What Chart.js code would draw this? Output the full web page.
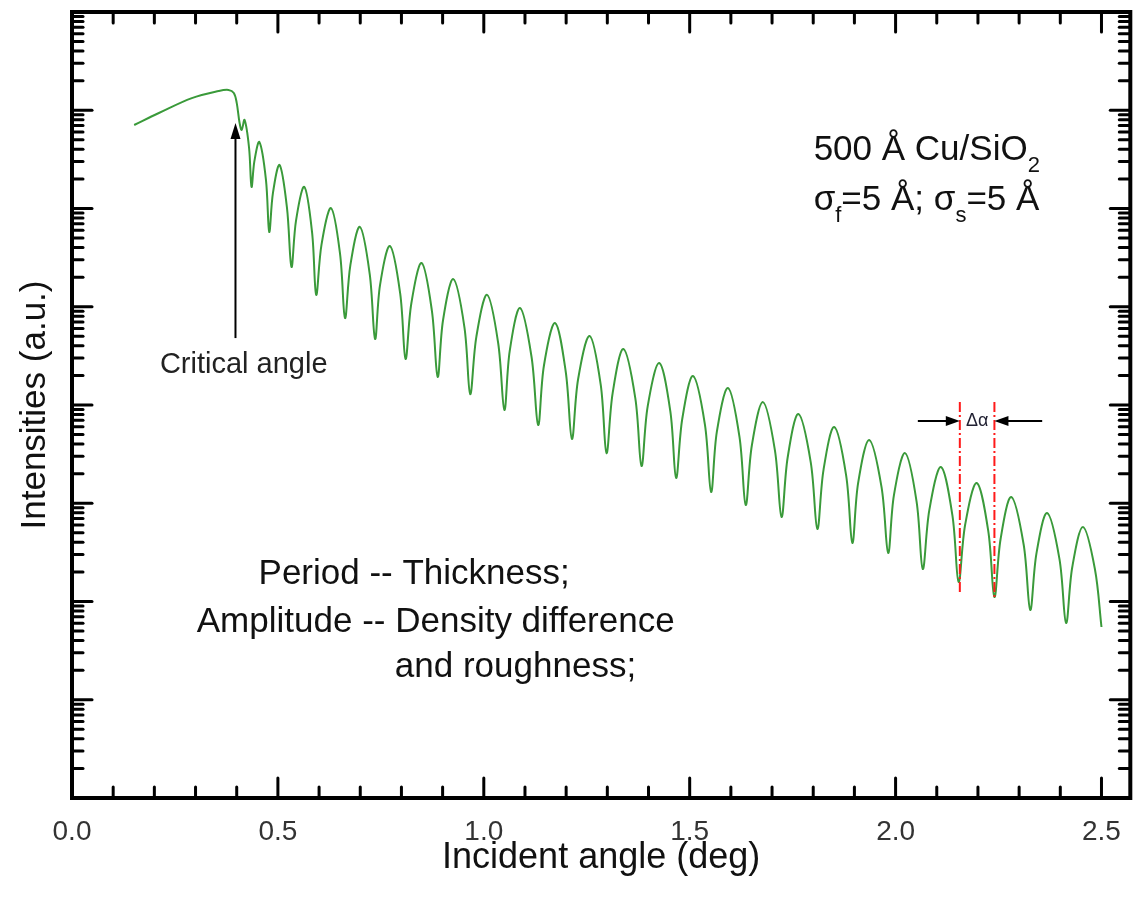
<!DOCTYPE html>
<html>
<head>
<meta charset="utf-8">
<script src="https://cdn.jsdelivr.net/npm/chart.js@4.4.1/dist/chart.umd.min.js"></script>
<style>
  html, body { margin: 0; padding: 0; background: #fff; }
</style>
</head>
<body>
<canvas id="chart" width="1138" height="908"></canvas>
<script>
// X-ray reflectivity of 500 A Cu on SiO2
const angle = [
  0.151, 0.211, 0.291, 0.356, 0.380, 0.393, 0.400, 0.407, 0.412, 0.419, 0.430,
  0.436, 0.443, 0.455, 0.471, 0.479, 0.488, 0.504, 0.522, 0.533, 0.544,
  0.564, 0.583, 0.593, 0.606, 0.629, 0.651, 0.663, 0.676, 0.699, 0.723,
  0.736, 0.748, 0.772, 0.797, 0.810, 0.824, 0.849, 0.874, 0.888, 0.901,
  0.926, 0.953, 0.967, 0.982, 1.008, 1.035, 1.050, 1.063, 1.088, 1.116,
  1.132, 1.146, 1.173, 1.199, 1.214, 1.229, 1.257, 1.284, 1.298, 1.313,
  1.339, 1.368, 1.383, 1.398, 1.426, 1.453, 1.467, 1.482, 1.508, 1.537,
  1.552, 1.566, 1.593, 1.621, 1.636, 1.651, 1.678, 1.707, 1.723, 1.738,
  1.764, 1.794, 1.810, 1.825, 1.851, 1.880, 1.895, 1.909, 1.936, 1.966,
  1.982, 1.996, 2.023, 2.051, 2.066, 2.082, 2.110, 2.138, 2.153, 2.169,
  2.197, 2.225, 2.240, 2.255, 2.281, 2.311, 2.327, 2.342, 2.368, 2.398,
  2.414, 2.429, 2.455, 2.484, 2.500
];
const intensity = [
  7.08e-2, 9.38e-2, 1.33e-1, 1.57e-1, 1.61e-1, 1.50e-1, 1.19e-1, 7.41e-2, 6.30e-2, 7.96e-2, 4.13e-2,
  1.66e-2, 3.05e-2, 4.75e-2, 1.96e-2, 5.77e-3, 1.44e-2, 2.77e-2, 1.02e-2, 2.54e-3, 7.53e-3,
  1.66e-2, 5.71e-3, 1.32e-3, 4.31e-3, 1.01e-2, 3.43e-3, 7.67e-4, 2.65e-3, 6.49e-3, 2.15e-3,
  4.70e-4, 1.66e-3, 4.15e-3, 1.36e-3, 2.94e-4, 1.08e-3, 2.79e-3, 9.08e-4, 1.93e-4, 7.29e-4,
  1.91e-3, 6.18e-4, 1.29e-4, 4.97e-4, 1.32e-3, 4.25e-4, 8.89e-5, 3.56e-4, 9.70e-4, 3.08e-4,
  6.25e-5, 2.51e-4, 6.84e-4, 2.18e-4, 4.51e-5, 1.83e-4, 5.04e-4, 1.60e-4, 3.24e-5, 1.33e-4,
  3.72e-4, 1.17e-4, 2.39e-5, 9.70e-5, 2.67e-4, 8.63e-5, 1.81e-5, 7.24e-5, 1.97e-4, 6.31e-5,
  1.30e-5, 5.35e-5, 1.49e-4, 4.71e-5, 9.59e-6, 3.89e-5, 1.07e-4, 3.46e-5, 7.24e-6, 2.94e-5,
  8.09e-5, 2.61e-5, 5.47e-6, 2.19e-5, 5.97e-5, 1.91e-5, 3.94e-6, 1.60e-5, 4.41e-5, 1.45e-5,
  3.12e-6, 1.21e-5, 3.24e-5, 1.04e-5, 2.14e-6, 8.57e-6, 2.34e-5, 7.53e-6, 1.58e-6, 6.07e-6,
  1.61e-5, 5.24e-6, 1.11e-6, 4.33e-6, 1.16e-5, 3.80e-6, 8.20e-7, 3.07e-6, 7.96e-6, 2.70e-6,
  6.04e-7, 2.23e-6, 5.73e-6, 2.14e-6, 5.50e-7
];

// axis ticks
const xMajorTicks = [0, 0.5, 1.0, 1.5, 2.0, 2.5];
const xTickLabels = ['0.0', '0.5', '1.0', '1.5', '2.0', '2.5'];
const xMinorTicks = [0.1, 0.2, 0.3, 0.4, 0.6, 0.7, 0.8, 0.9, 1.1, 1.2, 1.3, 1.4,
  1.6, 1.7, 1.8, 1.9, 2.1, 2.2, 2.3, 2.4];
const yDecades = [1e-8, 1e-7, 1e-6, 1e-5, 1e-4, 1e-3, 1e-2, 1e-1, 1];
const yMinorSteps = [2, 3, 4, 5, 6, 7, 8, 9];

// annotations (data coordinates)
const criticalArrow = { x: 0.397, from: 4.8e-4, to: 7.4e-2 };
const criticalLabel = { x: 0.417, y: 2.1e-4, text: 'Critical angle' };
const fringeLines = [
  { x: 2.156, top: 1.07e-4, bottom: 1.22e-6 },
  { x: 2.240, top: 1.07e-4, bottom: 1.09e-6 }
];
const deltaArrows = { y: 6.87e-5, leftFrom: 2.054, rightFrom: 2.356, label: 'Δα' };
const sampleLines = [
  { x: 1.801, y: 3.12e-2, parts: [{ t: '500 Å Cu/SiO' }, { t: '2', sub: true }] },
  { x: 1.801, y: 9.66e-3, parts: [{ t: 'σ' }, { t: 'f', sub: true }, { t: '=5 Å; σ' }, { t: 's', sub: true }, { t: '=5 Å' }] }
];
const noteLines = [
  { x: 0.453, y: 1.51e-6, text: 'Period -- Thickness;' },
  { x: 0.303, y: 4.9e-7, text: 'Amplitude -- Density difference' },
  { x: 0.784, y: 1.71e-7, text: 'and roughness;' }
];

const FONT = '"Liberation Sans", Arial, Helvetica, sans-serif';

function arrow(ctx, x1, y1, x2, y2, len, half) {
  const ang = Math.atan2(y2 - y1, x2 - x1);
  const c = Math.cos(ang), s = Math.sin(ang);
  ctx.beginPath();
  ctx.moveTo(x1, y1);
  ctx.lineTo(x2 - c * len * 0.8, y2 - s * len * 0.8);
  ctx.stroke();
  ctx.beginPath();
  ctx.moveTo(x2, y2);
  ctx.lineTo(x2 - len * c + half * s, y2 - len * s - half * c);
  ctx.lineTo(x2 - len * c - half * s, y2 - len * s + half * c);
  ctx.closePath();
  ctx.fill();
}

const decorations = {
  id: 'decorations',
  afterDraw(chart) {
    const { ctx, chartArea: a, scales: { x, y } } = chart;
    ctx.save();

    // inward tick marks on all four sides
    ctx.strokeStyle = '#000';
    ctx.lineWidth = 3;
    ctx.lineCap = 'round';
    const tick = (px, py, dx, dy) => {
      ctx.beginPath(); ctx.moveTo(px, py); ctx.lineTo(px + dx, py + dy); ctx.stroke();
    };
    xMajorTicks.forEach(v => {
      const p = x.getPixelForValue(v);
      tick(p, a.bottom, 0, -20); tick(p, a.top, 0, 20);
    });
    xMinorTicks.forEach(v => {
      const p = x.getPixelForValue(v);
      tick(p, a.bottom, 0, -11); tick(p, a.top, 0, 11);
    });
    yDecades.forEach(d => {
      const p = y.getPixelForValue(d);
      tick(a.left, p, 20, 0); tick(a.right, p, -20, 0);
      if (d < 1) {
        yMinorSteps.forEach(k => {
          const q = y.getPixelForValue(k * d);
          tick(a.left, q, 11, 0); tick(a.right, q, -11, 0);
        });
      }
    });
    ctx.lineCap = 'butt';
    ctx.lineWidth = 4;
    ctx.strokeRect(a.left, a.top, a.right - a.left, a.bottom - a.top);

    // critical angle arrow
    ctx.lineWidth = 2;
    ctx.fillStyle = '#000';
    const cx = x.getPixelForValue(criticalArrow.x);
    arrow(ctx, cx, y.getPixelForValue(criticalArrow.from), cx, y.getPixelForValue(criticalArrow.to), 16, 5);
    ctx.fillStyle = '#222';
    ctx.font = '29px ' + FONT;
    ctx.textAlign = 'center';
    ctx.textBaseline = 'alphabetic';
    ctx.fillText(criticalLabel.text, x.getPixelForValue(criticalLabel.x), y.getPixelForValue(criticalLabel.y));

    // fringe spacing markers
    ctx.strokeStyle = '#ff1a1a';
    ctx.lineWidth = 2;
    ctx.setLineDash([10, 3, 2, 3]);
    fringeLines.forEach(f => {
      const p = x.getPixelForValue(f.x);
      ctx.beginPath();
      ctx.moveTo(p, y.getPixelForValue(f.top));
      ctx.lineTo(p, y.getPixelForValue(f.bottom));
      ctx.stroke();
    });
    ctx.setLineDash([]);
    ctx.strokeStyle = '#000';
    ctx.fillStyle = '#000';
    const ay = y.getPixelForValue(deltaArrows.y);
    arrow(ctx, x.getPixelForValue(deltaArrows.leftFrom), ay, x.getPixelForValue(fringeLines[0].x), ay, 14, 5);
    arrow(ctx, x.getPixelForValue(deltaArrows.rightFrom), ay, x.getPixelForValue(fringeLines[1].x), ay, 14, 5);
    ctx.fillStyle = '#223';
    ctx.font = '18px ' + FONT;
    ctx.textBaseline = 'middle';
    ctx.fillText(deltaArrows.label,
      (x.getPixelForValue(fringeLines[0].x) + x.getPixelForValue(fringeLines[1].x)) / 2, ay);

    // sample description with subscripts
    ctx.fillStyle = '#111';
    ctx.textAlign = 'left';
    ctx.textBaseline = 'alphabetic';
    sampleLines.forEach(line => {
      let px = x.getPixelForValue(line.x);
      const py = y.getPixelForValue(line.y);
      line.parts.forEach(part => {
        ctx.font = (part.sub ? '22px ' : '35px ') + FONT;
        ctx.fillText(part.t, px, py + (part.sub ? 12 : 0));
        px += ctx.measureText(part.t).width;
      });
    });

    // notes
    ctx.font = '35px ' + FONT;
    noteLines.forEach(n => {
      ctx.fillText(n.text, x.getPixelForValue(n.x), y.getPixelForValue(n.y));
    });

    ctx.restore();
  }
};

new Chart(document.getElementById('chart').getContext('2d'), {
  type: 'line',
  data: {
    datasets: [{
      data: angle.map((a, i) => ({ x: a, y: intensity[i] })),
      borderColor: '#3a9a3a',
      borderWidth: 2,
      pointRadius: 0,
      tension: 0.35,
      fill: false
    }]
  },
  options: {
    responsive: false,
    animation: false,
    devicePixelRatio: 1,
    layout: { padding: { top: 12, right: 2, left: 0, bottom: 0 } },
    plugins: { legend: { display: false }, tooltip: { enabled: false } },
    scales: {
      x: {
        type: 'linear',
        position: 'bottom',
        min: 0,
        max: 2.57,
        afterBuildTicks: (s) => { s.ticks = xMajorTicks.map(v => ({ value: v })); },
        afterFit: (s) => { s.height = 110; },
        grid: { display: false, drawTicks: false },
        border: { display: false },
        ticks: {
          autoSkip: false,
          maxRotation: 0,
          padding: 17,
          color: '#333',
          font: { family: FONT, size: 28 },
          callback: (v, i) => xTickLabels[i]
        },
        title: {
          display: true,
          text: 'Incident angle (deg)',
          color: '#111',
          font: { family: FONT, size: 36 },
          padding: { top: 0, bottom: 28 }
        }
      },
      y: {
        type: 'logarithmic',
        position: 'left',
        min: 1e-8,
        max: 1,
        afterFit: (s) => { s.width = 72; },
        grid: { display: false, drawTicks: false },
        border: { display: false },
        ticks: { display: false },
        title: {
          display: true,
          text: 'Intensities (a.u.)',
          color: '#111',
          font: { family: FONT, size: 35 },
          padding: { top: 14, bottom: 0 }
        }
      }
    }
  },
  plugins: [decorations]
});
</script>
</body>
</html>
